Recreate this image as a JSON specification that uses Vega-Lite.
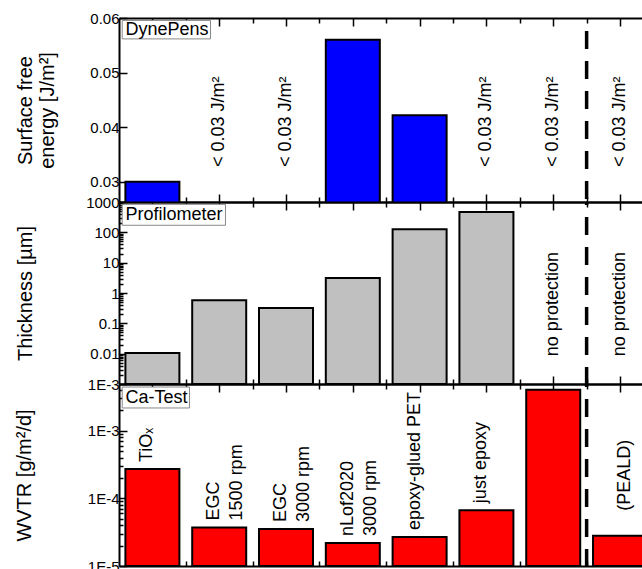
{
  "$schema": "https://vega.github.io/schema/vega-lite/v6.json",
  "padding": {"left": 14, "top": 11, "right": 0, "bottom": 0},
  "spacing": 0,
  "bounds": "flush",
  "config": {
    "font": "Liberation Sans",
    "view": {"stroke": null},
    "axis": {"domainColor": "black", "domainWidth": 2, "tickColor": "black", "tickWidth": 1.5, "labelColor": "black", "labelFontSize": 15, "labelFont": "Liberation Sans", "titleFont": "Liberation Sans", "titleFontSize": 20, "titleFontWeight": "normal", "titleColor": "black", "grid": false},
    "axisX": {"minExtent": 0, "maxExtent": 0},
    "text": {"font": "Liberation Sans"}
  },
  "datasets": {
    "d": [
      {"i": 0, "sfe": 0.030, "thickness": 0.0105, "wvtr": 0.000271, "label": "TiOₓ"},
      {"i": 1, "sfeNote": "< 0.03 J/m²", "thickness": 0.58, "wvtr": 0.0000372, "label": "EGC\n1500 rpm"},
      {"i": 2, "sfeNote": "< 0.03 J/m²", "thickness": 0.32, "wvtr": 0.0000351, "label": "EGC\n3000 rpm"},
      {"i": 3, "sfe": 0.056, "thickness": 3.1, "wvtr": 0.0000218, "label": "nLof2020\n3000 rpm"},
      {"i": 4, "sfe": 0.0422, "thickness": 126, "wvtr": 0.0000268, "label": "epoxy-glued PET"},
      {"i": 5, "sfeNote": "< 0.03 J/m²", "thickness": 468, "wvtr": 0.000067, "label": "just epoxy"},
      {"i": 6, "sfeNote": "< 0.03 J/m²", "thicknessNote": "no protection", "wvtr": 0.00405},
      {"i": 7, "sfeNote": "< 0.03 J/m²", "thicknessNote": "no protection", "wvtr": 0.000028, "label": "(PEALD)"}
    ]
  },
  "vconcat": [
    {
      "width": 524, "height": 184,
      "layer": [
        {
          "data": {"name": "d"},
          "transform": [{"filter": "isValid(datum.sfe)"}],
          "mark": {"type": "bar", "width": 54, "color": "#0000FF", "stroke": "black", "strokeWidth": 2, "clip": true},
          "encoding": {
            "x": {"field": "i", "type": "quantitative", "scale": {"domain": [-0.5, 7.344], "nice": false, "zero": false, "padding": 0},
              "axis": {"orient": "bottom", "labels": false, "title": null, "values": [0,0.5,1,1.5,2,2.5,3,3.5,4,4.5,5,5.5,6,6.5,7], "tickSize": {"condition": {"test": "datum.value % 1 === 0", "value": -8}, "value": -5}}},
            "y": {"field": "sfe", "type": "quantitative", "scale": {"domain": [0.02628, 0.06], "nice": false, "zero": false},
              "axis": {"orient": "left", "title": ["Surface free", "energy [J/m²]"], "titleLineHeight": 22, "titlePadding": 26, "minExtent": 36, "maxExtent": 36, "labelPadding": 8, "values": [0.03,0.035,0.04,0.045,0.05,0.055,0.06], "labelExpr": "abs(datum.value*100 - round(datum.value*100)) < 1e-6 ? format(datum.value, '.2f') : ''", "labelOverlap": false, "tickSize": {"condition": {"test": "abs(datum.value*100 - round(datum.value*100)) < 1e-6", "value": -8}, "value": -5}}}
          }
        },
        {
          "data": {"name": "d"},
          "transform": [{"filter": "datum.sfeNote"}],
          "mark": {"type": "text", "angle": 270, "fontSize": 18, "align": "center", "baseline": "middle", "color": "black"},
          "encoding": {
            "x": {"field": "i", "type": "quantitative", "axis": {"orient": "top", "labels": false, "title": null, "values": [0,0.5,1,1.5,2,2.5,3,3.5,4,4.5,5,5.5,6,6.5,7], "tickSize": {"condition": {"test": "datum.value % 1 === 0", "value": -8}, "value": -5}}},
            "y": {"datum": 0.041, "type": "quantitative"},
            "text": {"field": "sfeNote"}
          }
        },
        {
          "data": {"values": [{}]},
          "mark": {"type": "rule", "strokeDash": [18, 12], "strokeDashOffset": 17, "strokeWidth": 3.5, "color": "black"},
          "encoding": {"x": {"datum": 6.5, "type": "quantitative", "axis": null}}
        },
        {
          "data": {"values": [{}]},
          "mark": {"type": "rect", "fill": "white", "stroke": "#888888", "strokeWidth": 1},
          "encoding": {
            "x": {"datum": -0.452, "type": "quantitative", "axis": null}, "x2": {"datum": 0.870},
            "y": {"datum": 0.05956, "type": "quantitative"}, "y2": {"datum": 0.05617}
          }
        },
        {
          "data": {"values": [{"t": "DynePens"}]},
          "mark": {"type": "text", "fontSize": 18, "align": "left", "baseline": "middle", "color": "black"},
          "encoding": {
            "x": {"datum": -0.403, "type": "quantitative", "axis": null},
            "y": {"datum": 0.05786, "type": "quantitative"},
            "text": {"field": "t"}
          }
        }
      ],
      "resolve": {"axis": {"x": "independent"}}
    },
    {
      "width": 524, "height": 182,
      "layer": [
        {
          "data": {"name": "d"},
          "transform": [{"filter": "isValid(datum.thickness)"}],
          "mark": {"type": "bar", "width": 54, "color": "#C0C0C0", "stroke": "black", "strokeWidth": 2, "clip": true},
          "encoding": {
            "x": {"field": "i", "type": "quantitative", "scale": {"domain": [-0.5, 7.344], "nice": false, "zero": false, "padding": 0},
              "axis": {"orient": "bottom", "labels": false, "title": null, "values": [0,0.5,1,1.5,2,2.5,3,3.5,4,4.5,5,5.5,6,6.5,7], "tickSize": {"condition": {"test": "datum.value % 1 === 0", "value": -8}, "value": -5}}},
            "y": {"field": "thickness", "type": "quantitative", "scale": {"type": "log", "domain": [0.001, 1000], "nice": false},
              "axis": {"orient": "left", "title": "Thickness [µm]", "titlePadding": 48, "minExtent": 36, "maxExtent": 36, "labelPadding": 8,
                "values": [0.001,0.002,0.003,0.004,0.005,0.006,0.007,0.008,0.009,0.01,0.02,0.03,0.04,0.05,0.06,0.07,0.08,0.09,0.1,0.2,0.3,0.4,0.5,0.6,0.7,0.8,0.9,1,2,3,4,5,6,7,8,9,10,20,30,40,50,60,70,80,90,100,200,300,400,500,600,700,800,900,1000],
                "labelExpr": "abs(log(datum.value)/LN10 - round(log(datum.value)/LN10)) < 1e-6 ? (datum.value >= 0.01 ? format(datum.value, '~g') : '1E-3') : ''",
                "labelOverlap": false,
                "tickSize": {"condition": {"test": "abs(log(datum.value)/LN10 - round(log(datum.value)/LN10)) < 1e-6", "value": -8}, "value": -4}}},
            "y2": {"datum": 0.001}
          }
        },
        {
          "data": {"name": "d"},
          "transform": [{"filter": "datum.thicknessNote"}],
          "mark": {"type": "text", "angle": 270, "fontSize": 18, "align": "center", "baseline": "middle", "color": "black"},
          "encoding": {
            "x": {"field": "i", "type": "quantitative", "axis": {"orient": "top", "labels": false, "title": null, "values": [0,0.5,1,1.5,2,2.5,3,3.5,4,4.5,5,5.5,6,6.5,7], "tickSize": {"condition": {"test": "datum.value % 1 === 0", "value": -8}, "value": -5}}},
            "y": {"datum": 0.43, "type": "quantitative"},
            "text": {"field": "thicknessNote"}
          }
        },
        {
          "data": {"values": [{}]},
          "mark": {"type": "rule", "strokeDash": [18, 12], "strokeDashOffset": 15, "strokeWidth": 3.5, "color": "black"},
          "encoding": {"x": {"datum": 6.5, "type": "quantitative", "axis": null}}
        },
        {
          "data": {"values": [{}]},
          "mark": {"type": "rect", "fill": "white", "stroke": "#888888", "strokeWidth": 1},
          "encoding": {
            "x": {"datum": -0.452, "type": "quantitative", "axis": null}, "x2": {"datum": 1.094},
            "y": {"datum": 839, "type": "quantitative"}, "y2": {"datum": 171}
          }
        },
        {
          "data": {"values": [{"t": "Profilometer"}]},
          "mark": {"type": "text", "fontSize": 18, "align": "left", "baseline": "middle", "color": "black"},
          "encoding": {
            "x": {"datum": -0.403, "type": "quantitative", "axis": null},
            "y": {"datum": 379, "type": "quantitative"},
            "text": {"field": "t"}
          }
        }
      ],
      "resolve": {"axis": {"x": "independent"}}
    },
    {
      "width": 524, "height": 182,
      "layer": [
        {
          "data": {"name": "d"},
          "mark": {"type": "bar", "width": 54, "color": "#FF0000", "stroke": "black", "strokeWidth": 2, "clip": true},
          "encoding": {
            "x": {"field": "i", "type": "quantitative", "scale": {"domain": [-0.5, 7.344], "nice": false, "zero": false, "padding": 0},
              "axis": {"orient": "bottom", "labels": false, "title": null, "values": [0,0.5,1,1.5,2,2.5,3,3.5,4,4.5,5,5.5,6,6.5,7], "tickSize": {"condition": {"test": "datum.value % 1 === 0", "value": -8}, "value": -5}}},
            "y": {"field": "wvtr", "type": "quantitative", "scale": {"type": "log", "domain": [0.00001, 0.00491], "nice": false},
              "axis": {"orient": "left", "title": "WVTR [g/m²/d]", "titlePadding": 49, "minExtent": 36, "maxExtent": 36, "labelPadding": 8,
                "values": [0.00001,0.00002,0.00003,0.00004,0.00005,0.00006,0.00007,0.00008,0.00009,0.0001,0.0002,0.0003,0.0004,0.0005,0.0006,0.0007,0.0008,0.0009,0.001,0.002,0.003,0.004],
                "labelExpr": "abs(log(datum.value)/LN10 - round(log(datum.value)/LN10)) < 1e-6 ? '1E' + round(log(datum.value)/LN10) : ''",
                "labelOverlap": false,
                "tickSize": {"condition": {"test": "abs(log(datum.value)/LN10 - round(log(datum.value)/LN10)) < 1e-6", "value": -8}, "value": -4}}},
            "y2": {"datum": 0.00001}
          }
        },
        {
          "data": {"name": "d"},
          "transform": [{"filter": "datum.label && datum.i < 7"}],
          "mark": {"type": "text", "angle": 270, "fontSize": 18, "align": "left", "baseline": "middle", "color": "black", "dx": 7, "dy": -5, "lineBreak": "\n", "lineHeight": 23},
          "encoding": {
            "x": {"field": "i", "type": "quantitative", "axis": {"orient": "top", "labels": false, "title": null, "values": [0,0.5,1,1.5,2,2.5,3,3.5,4,4.5,5,5.5,6,6.5,7], "tickSize": {"condition": {"test": "datum.value % 1 === 0", "value": -8}, "value": -5}}},
            "y": {"field": "wvtr", "type": "quantitative"},
            "text": {"field": "label"}
          }
        },
        {
          "data": {"name": "d"},
          "transform": [{"filter": "datum.label && datum.i == 7"}],
          "mark": {"type": "text", "angle": 270, "fontSize": 18, "align": "left", "baseline": "middle", "color": "black", "dx": 25, "dy": 5},
          "encoding": {
            "x": {"field": "i", "type": "quantitative", "axis": null},
            "y": {"field": "wvtr", "type": "quantitative"},
            "text": {"field": "label"}
          }
        },
        {
          "data": {"values": [{}]},
          "mark": {"type": "rule", "strokeDash": [18, 12], "strokeDashOffset": 15, "strokeWidth": 3.5, "color": "black"},
          "encoding": {"x": {"datum": 6.5, "type": "quantitative", "axis": null}}
        },
        {
          "data": {"values": [{}]},
          "mark": {"type": "rect", "fill": "white", "stroke": "#888888", "strokeWidth": 1},
          "encoding": {
            "x": {"datum": -0.452, "type": "quantitative", "axis": null}, "x2": {"datum": 0.555},
            "y": {"datum": 0.00443, "type": "quantitative"}, "y2": {"datum": 0.00217}
          }
        },
        {
          "data": {"values": [{"t": "Ca-Test"}]},
          "mark": {"type": "text", "fontSize": 18, "align": "left", "baseline": "middle", "color": "black"},
          "encoding": {
            "x": {"datum": -0.403, "type": "quantitative", "axis": null},
            "y": {"datum": 0.0031, "type": "quantitative"},
            "text": {"field": "t"}
          }
        }
      ],
      "resolve": {"axis": {"x": "independent"}}
    }
  ]
}
